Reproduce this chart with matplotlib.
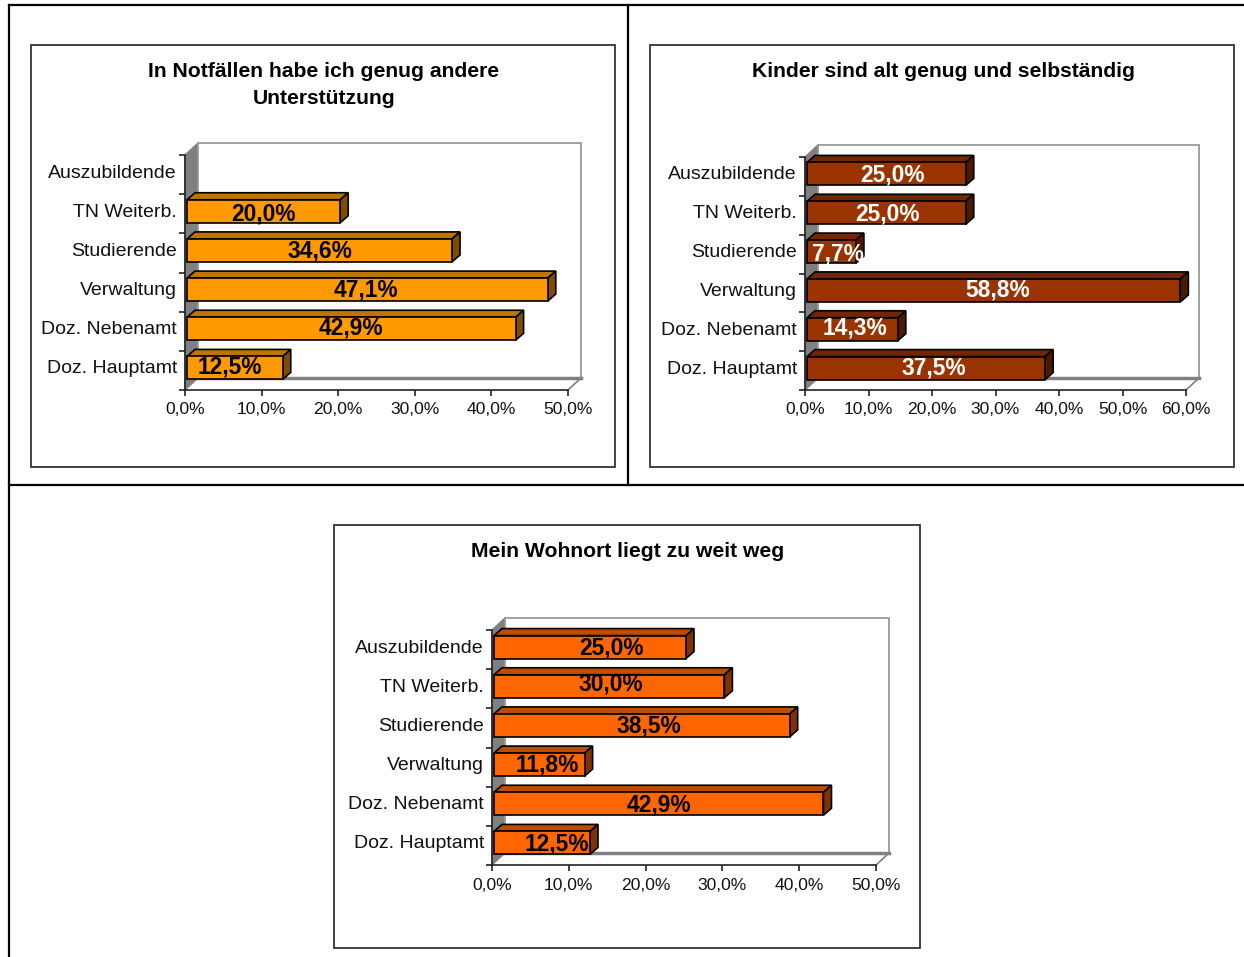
import matplotlib
matplotlib.use('Agg')
import matplotlib.pyplot as plt
from matplotlib.lines import Line2D
from matplotlib.patches import Polygon, Rectangle

plt.rcParams['font.family'] = ['Liberation Sans', 'DejaVu Sans']

W, H = 1244, 957

categories = ['Doz. Hauptamt', 'Doz. Nebenamt', 'Verwaltung', 'Studierende', 'TN Weiterb.', 'Auszubildende']

notfall_values = [12.5, 42.9, 47.1, 34.6, 20.0, 0]
kinder_values = [37.5, 14.3, 58.8, 7.7, 25.0, 25.0]
wohnort_values = [12.5, 42.9, 11.8, 38.5, 30.0, 25.0]

notfall_ticks = [0, 10, 20, 30, 40, 50]
kinder_ticks = [0, 10, 20, 30, 40, 50, 60]
wohnort_ticks = [0, 10, 20, 30, 40, 50]

# label nudges in pixels, per bar (the labels are not quite centred)
notfall_nudge = [(-5, 1), (0, 1), (-1, 0), (0, -1), (0, -3), (0, 0)]
kinder_nudge = [(8, 0), (3, 1), (4, 0), (6, -2), (1, -1), (6, -1)]
wohnort_nudge = [(15, -1), (0, -1), (8, 0), (7, -1), (2, 2), (22, -1)]


def px_rect(x0, y_bottom, x1, y_top):
    return [x0 / W, 1 - y_bottom / H, (x1 - x0) / W, (y_bottom - y_top) / H]


def draw_chart(box, title, title_y, values, ticks, nudges, plane, colors, label_color):
    fig.add_artist(Rectangle((box[0] / W, 1 - box[3] / H), (box[2] - box[0]) / W, (box[3] - box[1]) / H,
                             transform=fig.transFigure, fc='white', ec='#222222', lw=1.2, zorder=-1))
    fig.text(((box[0] + box[2]) / 2 + 1) / W, 1 - title_y / H, title, ha='center', va='center',
             fontsize=15.2, fontweight='bold', color='black', linespacing=1.55)

    x0, y_bottom, x1, y_top = plane
    ax = fig.add_axes(px_rect(x0, y_bottom, x1, y_top))
    ax.patch.set_alpha(0)
    ax.set_xlim(ticks[0], ticks[-1])
    ax.set_ylim(-0.5, 5.5)
    sx = (x1 - x0) / ticks[-1]
    sy = (y_bottom - y_top) / 6.0

    # back wall, side wall and floor of the 3d box
    wx, wy = 13 / sx, 12 / sy
    xm = ticks[-1]
    ax.add_patch(Polygon([(0, -0.5), (wx, -0.5 + wy), (wx, 5.5 + wy), (0, 5.5)], fc='#808080', ec='#808080',
                         lw=1, clip_on=False, zorder=1))
    ax.add_patch(Polygon([(wx, -0.5 + wy), (xm + wx, -0.5 + wy), (xm + wx, 5.5 + wy), (wx, 5.5 + wy)],
                         fc='white', ec='#999999', lw=1.3, clip_on=False, zorder=1))
    ax.plot([wx, xm + wx], [-0.5 + wy, -0.5 + wy], color='#808080', lw=2.5, clip_on=False, zorder=1.5)
    ax.plot([xm, xm + wx], [-0.5, -0.5 + wy], color='#808080', lw=1.2, clip_on=False, zorder=1.5)

    gap = 2 / sx
    dx, dy = 8 / sx, 7 / sy
    h = 23 / sy
    y_pos = [i + 2.5 / sy for i in range(len(values))]
    for i, v in enumerate(values):
        if v <= 0:
            continue
        y = y_pos[i]
        end = gap + v
        ax.barh(y, v, height=h, left=gap, color=colors[0], edgecolor='black', lw=1.2, zorder=3, clip_on=False)
        top = y + h / 2
        bot = y - h / 2
        ax.add_patch(Polygon([(gap, top), (end, top), (end + dx, top + dy), (gap + dx, top + dy)], fc=colors[1],
                             ec='black', lw=1.2, clip_on=False, zorder=2.9))
        ax.add_patch(Polygon([(end, bot), (end + dx, bot + dy), (end + dx, top + dy), (end, top)], fc=colors[2],
                             ec='black', lw=1.2, clip_on=False, zorder=2.9))
        nx, ny = nudges[i]
        ax.annotate(f'{v:.1f}%'.replace('.', ','), (gap + v / 2, y), xytext=(nx, ny), textcoords='offset pixels',
                    ha='center', va='center', fontsize=16.4, fontweight='bold', color=label_color,
                    zorder=5, annotation_clip=False)

    for s in ['top', 'right']:
        ax.spines[s].set_visible(False)
    for s in ['left', 'bottom']:
        ax.spines[s].set_color('#222222')
        ax.spines[s].set_linewidth(1.2)
        ax.spines[s].set_zorder(2)

    ax.set_xticks(ticks)
    ax.set_xticklabels([f'{t:.1f}%'.replace('.', ',') for t in ticks], fontsize=12.6, color='#111111')
    ax.tick_params(axis='x', length=4, width=1.2, pad=5, color='#222222')
    # ticks sit between the categories, the names in the middle
    ax.set_yticks([i - 0.5 for i in range(7)])
    ax.set_yticklabels([])
    ax.tick_params(axis='y', which='major', length=4, width=1.2, color='#222222')
    ax.set_yticks([i + 0.09 for i in range(6)], minor=True)
    ax.set_yticklabels(categories, minor=True, fontsize=14, color='#111111')
    ax.tick_params(axis='y', which='minor', length=0, pad=5.8)
    return ax


fig = plt.figure(figsize=(W / 100, H / 100), dpi=100, facecolor='white')

# page table lines
for xs, ys in [((9, 1244), (5, 5)), ((9, 9), (5, 957)), ((628, 628), (5, 485)), ((9, 1244), (485, 485))]:
    fig.add_artist(Line2D([x / W for x in xs], [1 - y / H for y in ys], color='black', lw=1.6))

draw_chart((31, 45, 615, 467), 'In Notfällen habe ich genug andere\nUnterstützung', 85,
           notfall_values, notfall_ticks, notfall_nudge, (185, 390, 568, 155),
           ('#FF9900', '#BF7300', '#804D00'), 'black')
draw_chart((650, 45, 1234, 467), 'Kinder sind alt genug und selbständig', 71.5,
           kinder_values, kinder_ticks, kinder_nudge, (805, 390, 1186, 157),
           ('#993300', '#732600', '#4D1A00'), 'white')
draw_chart((334, 525, 920, 948), 'Mein Wohnort liegt zu weit weg', 551.5,
           wohnort_values, wohnort_ticks, wohnort_nudge, (492, 865, 876, 630),
           ('#FF6600', '#BF4C00', '#803300'), 'black')

fig.savefig('out.png', dpi=100)
